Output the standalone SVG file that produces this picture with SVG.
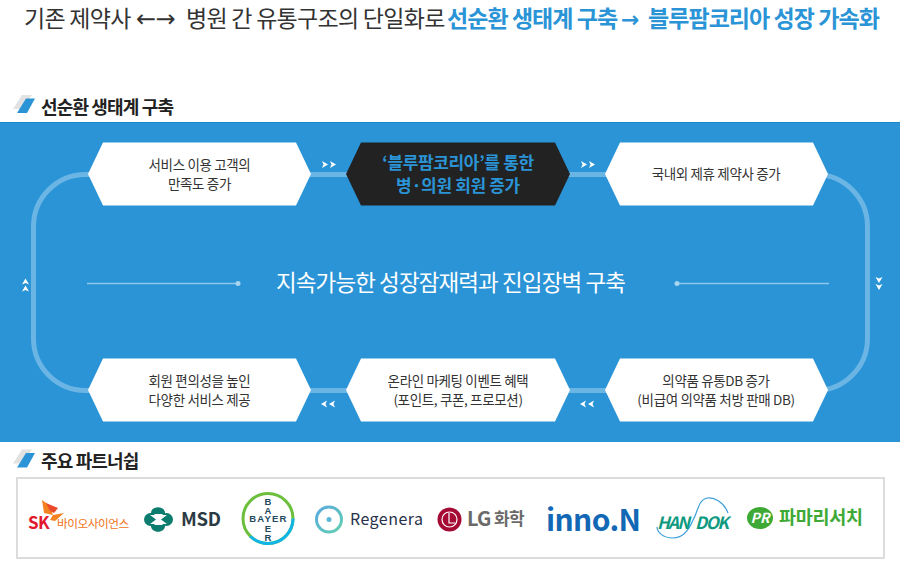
<svg xmlns="http://www.w3.org/2000/svg" width="900" height="575" viewBox="0 0 900 575">
<defs>
<style>
text{font-family:"Noto Sans CJK KR","Noto Sans",sans-serif}
.n{font-size:13.5px;fill:#333;text-anchor:middle;letter-spacing:-.35px}
.b{font-size:17px;font-weight:700;fill:#2a94d6;text-anchor:middle;letter-spacing:-.35px}
.h{font-size:18px;font-weight:700;fill:#222;letter-spacing:-.85px}
.hex{fill:#fff}
.line{fill:none;stroke:#6bb5e5;stroke-width:5}
.chev{fill:#fff}
.ttl{font-size:23px;fill:#333;letter-spacing:-.72px}
.ttb{font-size:23px;fill:#2a94d6;font-weight:700;letter-spacing:-.95px}
.by{font-family:"Liberation Sans",sans-serif;font-size:9.500px;font-weight:700;fill:#1f4a5f;text-anchor:middle}
</style>
<linearGradient id="rg" x1="0" y1="0" x2="1" y2="1"><stop offset="0" stop-color="#5aa9e0"/><stop offset="1" stop-color="#62d0b0"/></linearGradient>
<g id="stripe"><polygon points="22,95 32,95 22,109 13,109" fill="#e2e2e2"/><polygon points="26,98.500 35,98.500 27,113 17,113" fill="#2a94d6"/></g>
<polygon id="cr" points="0,0 6,3.500 0,7 1.500,3.500" class="chev"/>
</defs>
<rect width="900" height="575" fill="#fff"/>
<text y="27"><tspan class="ttl" x="24">기존 제약사</tspan><tspan class="ttl" x="136" font-family="DejaVu Sans" style="font-size:24px;letter-spacing:-.5px">←→</tspan><tspan class="ttl" x="186">병원 간 유통구조의 단일화로</tspan><tspan class="ttb" x="447">선순환 생태계 구축</tspan><tspan class="ttb" x="621" font-family="DejaVu Sans" style="font-size:22px">→</tspan><tspan class="ttb" x="648">블루팜코리아 성장 가속화</tspan></text>
<use href="#stripe"/>
<text class="h" x="41" y="113.500">선순환 생태계 구축</text>
<rect y="122" width="900" height="320" fill="#2a94d6"/>
<rect y="122" width="900" height="1" fill="#1b86cc"/>
<g id="connectors">
<rect class="line" x="33.500" y="174.500" width="834" height="216" rx="52"/>
<g id="arrows">
<use href="#cr" x="322" y="161"/><use href="#cr" x="330" y="161"/>
<use href="#cr" x="581" y="161"/><use href="#cr" x="589" y="161"/>
<use href="#cr" transform="translate(335,407.500) rotate(180)"/><use href="#cr" transform="translate(327,407.500) rotate(180)"/>
<use href="#cr" transform="translate(594,407.500) rotate(180)"/><use href="#cr" transform="translate(586,407.500) rotate(180)"/>
<use href="#cr" transform="translate(22,284.500) rotate(-90)"/><use href="#cr" transform="translate(22,291.500) rotate(-90)"/>
<use href="#cr" transform="translate(882.500,277) rotate(90)"/><use href="#cr" transform="translate(882.500,284) rotate(90)"/>
</g>
</g>
<g id="node-center-title">
<line x1="87" y1="283.500" x2="238" y2="283.500" stroke="#8cc6ec" stroke-width="1.500"/>
<circle cx="238" cy="283.500" r="2.500" fill="#a8d4f0"/>
<line x1="677" y1="283.500" x2="829" y2="283.500" stroke="#8cc6ec" stroke-width="1.500"/>
<circle cx="677" cy="283.500" r="2.500" fill="#a8d4f0"/>
<text x="450.500" y="291" font-size="22.500" fill="#fff" text-anchor="middle" letter-spacing="-.9">지속가능한 성장잠재력과 진입장벽 구축</text>
</g>
<g id="node-1"><polygon class="hex" points="103,142.500 296,142.500 311,174 296,205.500 103,205.500 88,174"/><text class="n" x="199.500" y="169.500">서비스 이용 고객의</text><text class="n" x="199.500" y="188.500">만족도 증가</text></g>
<g id="node-2"><polygon points="361,142.500 555,142.500 570,174 555,205.500 361,205.500 346,174" fill="#222"/><text class="b" x="458" y="168.500">‘블루팜코리아’를 통한</text><text class="b" x="458" y="191.500">병·의원 회원 증가</text></g>
<g id="node-3"><polygon class="hex" points="620,142.500 813,142.500 828,174 813,205.500 620,205.500 605,174"/><text class="n" x="716" y="179">국내외 제휴 제약사 증가</text></g>
<g id="node-4"><polygon class="hex" points="620,358.500 813,358.500 828,390 813,421.500 620,421.500 605,390"/><text class="n" x="716" y="386">의약품 유통DB 증가</text><text class="n" x="716" y="405">(비급여 의약품 처방 판매 DB)</text></g>
<g id="node-5"><polygon class="hex" points="361,358.500 555,358.500 570,390 555,421.500 361,421.500 346,390"/><text class="n" x="458" y="386">온라인 마케팅 이벤트 혜택</text><text class="n" x="458" y="405">(포인트, 쿠폰, 프로모션)</text></g>
<g id="node-6"><polygon class="hex" points="103,358.500 296,358.500 311,390 296,421.500 103,421.500 88,390"/><text class="n" x="199.500" y="386">회원 편의성을 높인</text><text class="n" x="199.500" y="405">다양한 서비스 제공</text></g>
<use href="#stripe" y="354.500"/>
<text class="h" x="41" y="467.500">주요 파트너쉽</text>
<rect x="17" y="478" width="867" height="80" fill="#fff" stroke="#dcdcdc" stroke-width="2"/>
<g id="partner-sk">
<polygon points="42,500 49,505 53,515 44,513" fill="#f58220"/>
<polygon points="46,503 58,508 54,513 50,511" fill="#ea4a2a"/>
<polygon points="53,515 64,513 55,521 50,520" fill="#f58220"/>
<text x="28" y="529" font-family="Liberation Sans" font-size="17" font-weight="700" fill="#e2182e" letter-spacing="-.5">SK</text>
<text x="57" y="528" font-size="11.700" fill="#f37321" letter-spacing="-.5">바이오사이언스</text>
</g>
<g id="partner-msd">
<g fill="#0c7c6e"><circle cx="150.500" cy="519.500" r="6.500"/><circle cx="166.500" cy="519.500" r="6.500"/><path d="M151,514 C150,505 166,505 165,514Z"/><path d="M151,525 C150,534 166,534 165,525Z"/></g>
<path d="M150,515 H167 L161,519.500 L167,524 H150 L156,519.500Z" fill="#fff"/>
<text x="181" y="526" font-family="Liberation Sans" font-size="18.500" font-weight="700" fill="#2c3a44" letter-spacing="-.3">MSD</text>
</g>
<g id="partner-bayer">
<circle cx="268" cy="518.500" r="25" fill="#fff" stroke="#6cbf3c" stroke-width="3"/>
<path d="M250.300,536.200 A25,25 0 0 0 293,518.500" fill="none" stroke="#10b5e8" stroke-width="3"/>
<text class="by" x="268.500" y="522" letter-spacing="1.200">BAYER</text>
<text class="by" x="268" y="505">B</text><text class="by" x="268" y="514">A</text><text class="by" x="268" y="532">E</text><text class="by" x="268" y="541">R</text>
</g>
<g id="partner-regenera">
<circle cx="329" cy="519.500" r="12.500" fill="none" stroke="url(#rg)" stroke-width="3"/>
<circle cx="329" cy="519.500" r="2.500" fill="#5db8d8"/>
<text x="350" y="524.500" font-family="Inter" font-size="16" fill="#27324a" textLength="73">Regenera</text>
</g>
<g id="partner-lg">
<circle cx="449.500" cy="519.500" r="12" fill="#a50a34"/>
<circle cx="449.500" cy="519.500" r="7.500" fill="none" stroke="#fff" stroke-width="1.200"/>
<path d="M449,513 V523 H455" fill="none" stroke="#fff" stroke-width="1.200"/>
<text x="467" y="526" font-family="Liberation Sans" font-size="20" font-weight="700" fill="#6a6a6a" letter-spacing="-.8">LG</text>
<text x="494" y="525" font-size="17" font-weight="700" fill="#6a6a6a" letter-spacing="-.6">화학</text>
</g>
<g id="partner-innon"><text x="546" y="531" font-family="Inter" font-size="30" font-weight="700" fill="#1268b4" textLength="95">inno.N</text></g>
<g id="partner-handok">
<path d="M728,513 C724,502 714,497 707,498 C698,500 698,512 693,520 C689,530 682,538 673,538 C663,538 657,532 657,527" fill="none" stroke="#3fa0d8" stroke-width="1.200"/>
<text x="657" y="529" font-family="Liberation Sans" font-size="17" font-weight="700" font-style="italic" fill="#0f9a80" textLength="33">HAN</text>
<text x="695" y="529" font-family="Liberation Sans" font-size="17" font-weight="700" font-style="italic" fill="#0f9a80" textLength="34">DOK</text>
</g>
<g id="partner-pharma">
<ellipse cx="760" cy="518" rx="13" ry="11" fill="#3eaa35"/>
<text x="760" y="523" font-family="Liberation Sans" font-size="14" font-weight="700" font-style="italic" fill="#fff" text-anchor="middle">PR</text>
<text x="779" y="524" font-size="18.500" font-weight="700" fill="#3eaa35" letter-spacing="-.3">파마리서치</text>
</g>
</svg>
